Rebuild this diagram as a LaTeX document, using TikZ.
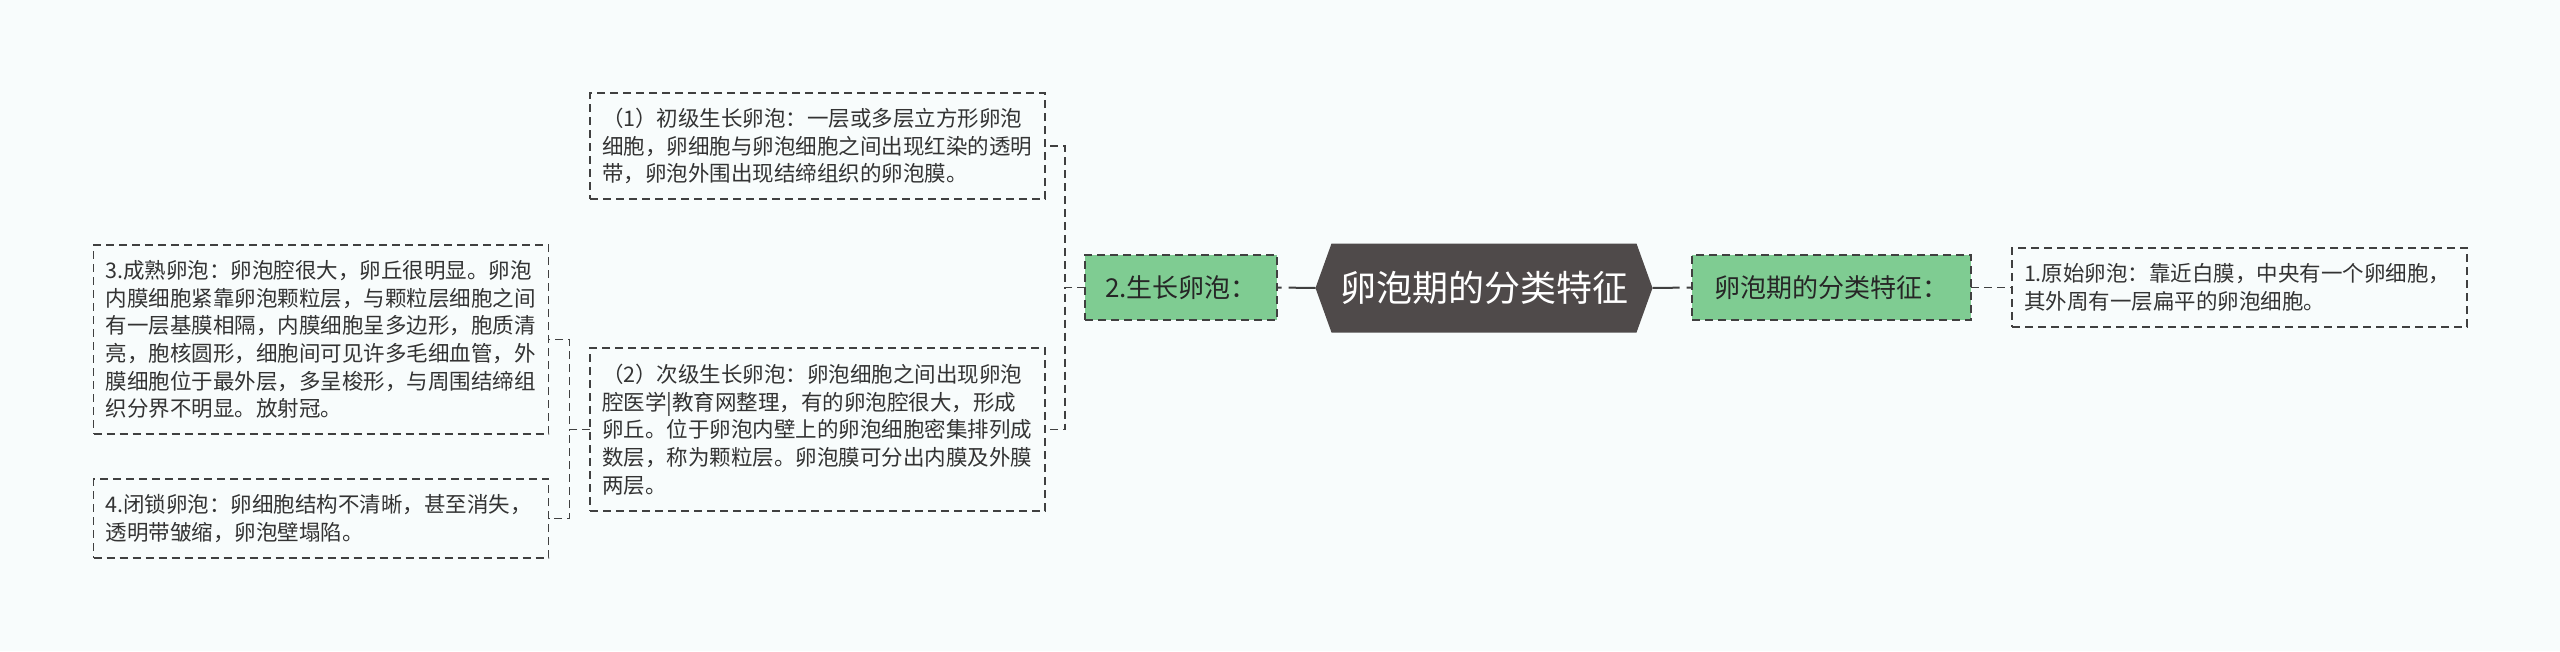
\documentclass[tikz,border=0pt]{standalone}
\usepackage{fontspec}
\setmainfont{Noto Sans CJK SC}
\usetikzlibrary{calc}

\definecolor{pagebg}{HTML}{F8FCFC}
\definecolor{rootgray}{HTML}{4F4A4A}
\definecolor{leafgreen}{HTML}{7FCC92}
\definecolor{edgegray}{HTML}{404040}
\definecolor{inkgray}{HTML}{333333}

\begin{document}
\begin{tikzpicture}[
  x=1pt, y=-1pt,
  every node/.style={font=\fontsize{21.5pt}{27.7pt}\selectfont, text=inkgray, outer sep=0pt},
  notebox/.style={draw=edgegray, line width=1.5pt, dash pattern=on 8pt off 5pt,
    inner xsep=12pt, text width=431pt, align=left},
  branch/.style={draw=edgegray, line width=1.5pt, dash pattern=on 8pt off 5pt,
    fill=leafgreen, font=\fontsize{26pt}{30pt}\selectfont, text=black!85,
    minimum height=65pt, inner sep=0pt},
  link/.style={edgegray, line width=1.5pt, dash pattern=on 8pt off 5pt},
  rootlink/.style={edgegray, line width=2pt, dash pattern=on 27pt off 7pt on 5pt off 7pt}
]
\useasboundingbox (0,0) rectangle (2560,651);
\fill[pagebg] (0,0) rectangle (2560,651);
% central topic
\coordinate (rootc) at (1484,288);
\fill[rootgray] ($(rootc)+(-168.5,0)$) -- ++(16,-44.5) -- ++(305,0)
  -- ++(16,44.5) -- ++(-16,44.5) -- ++(-305,0) -- cycle;
\node[text=white, font=\fontsize{36pt}{40pt}\selectfont, minimum width=337pt,
  minimum height=89pt, inner sep=0pt] (root) at (rootc) {卵泡期的分类特征};

\node[branch, minimum width=192pt] (growth) at (1181,287.5) {2.生长卵泡：};
\node[branch, minimum width=279pt] (stages) at (1831.5,287.5) {卵泡期的分类特征：};

\node[notebox, minimum height=79pt] (primordial) at (2239.5,287.5)
  {1.原始卵泡：靠近白膜，中央有一个卵细胞，\\
   其外周有一层扁平的卵泡细胞。};
\node[notebox, minimum height=106pt] (primary) at (817.5,146)
  {（1）初级生长卵泡：一层或多层立方形卵泡\\
   细胞，卵细胞与卵泡细胞之间出现红染的透明\\
   带，卵泡外围出现结缔组织的卵泡膜。};
\node[notebox, minimum height=163pt] (secondary) at (817.5,429.5)
  {（2）次级生长卵泡：卵泡细胞之间出现卵泡\\
   腔医学|教育网整理，有的卵泡腔很大，形成\\
   卵丘。位于卵泡内壁上的卵泡细胞密集排列成\\
   数层，称为颗粒层。卵泡膜可分出内膜及外膜\\
   两层。};
\node[notebox, minimum height=189pt] (mature) at (321,339.5)
  {3.成熟卵泡：卵泡腔很大，卵丘很明显。卵泡\\
   内膜细胞紧靠卵泡颗粒层，与颗粒层细胞之间\\
   有一层基膜相隔，内膜细胞呈多边形，胞质清\\
   亮，胞核圆形，细胞间可见许多毛细血管，外\\
   膜细胞位于最外层，多呈梭形，与周围结缔组\\
   织分界不明显。放射冠。};
\node[notebox, minimum height=79pt] (atretic) at (321,518.5)
  {4.闭锁卵泡：卵细胞结构不清晰，甚至消失，\\
   透明带皱缩，卵泡壁塌陷。};

% connectors
\draw[rootlink] (root.west) -- (growth.east);
\draw[rootlink] (root.east) -- (stages.west);
\draw[link] (stages.east) -- (primordial.west);
\draw[link] (growth.west) -- ++(-20,0) |- (primary.east);
\draw[link] (growth.west) -- ++(-20,0) |- (secondary.east);
\draw[link] (secondary.west) -- ++(-20.5,0) |- (mature.east);
\draw[link] (secondary.west) -- ++(-20.5,0) |- (atretic.east);
\end{tikzpicture}
\end{document}
